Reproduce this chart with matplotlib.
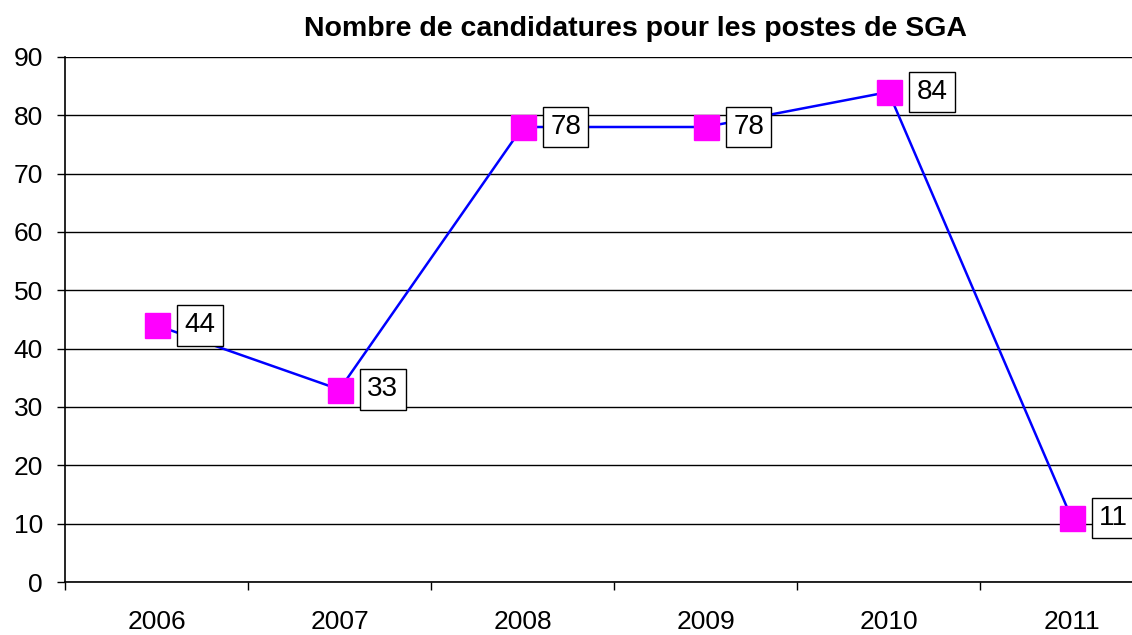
import numpy as np
import matplotlib.pyplot as plt

plt.rcParams['font.family'] = ['Liberation Sans', 'DejaVu Sans']

annees = ['2006', '2007', '2008', '2009', '2010', '2011']
candidatures = [44, 33, 78, 78, 84, 11]

fig = plt.figure(figsize=(11.32, 6.35), dpi=100)
ax = fig.add_axes([65 / 1132, 53 / 635, 1098 / 1132, 525 / 635])

x = np.arange(len(annees))
ax.plot(x, candidatures, color='#0000FF', lw=1.8, marker='s', markersize=18,
        markerfacecolor='#FF00FF', markeredgecolor='#FF00FF', zorder=3)

# etiquettes de valeurs dans des cadres
for xi, v in zip(x, candidatures):
    ax.annotate(str(v), (xi, v), xytext=(20, 0), textcoords='offset points',
                ha='left', va='center', fontsize=20,
                bbox=dict(boxstyle='square,pad=0.26', fc='white', ec='black', lw=1.0),
                zorder=4)

ax.set_xlim(-0.5, len(annees) - 0.5)
ax.set_ylim(0, 90)
ax.set_yticks(np.arange(0, 91, 10))
ax.set_xticks(x)
ax.set_xticklabels(annees)
ax.set_xticks(np.arange(-0.5, len(annees) + 0.5, 1), minor=True)
ax.tick_params(axis='x', which='major', length=0, pad=20, labelsize=19)
ax.tick_params(axis='x', which='minor', length=6, width=1, direction='out')
ax.tick_params(axis='y', length=6, width=1, direction='out', pad=10, labelsize=19)

ax.yaxis.grid(True, color='black', lw=1)
ax.set_axisbelow(True)
for s in ['top', 'right']:
    ax.spines[s].set_visible(False)
ax.spines['left'].set_linewidth(1.2)
ax.spines['bottom'].set_linewidth(1.2)

fig.text(635 / 1132, 1 - 29 / 635, 'Nombre de candidatures pour les postes de SGA',
         ha='center', va='center', fontsize=20.5, fontweight='bold')

fig.savefig('out.png', dpi=100)
